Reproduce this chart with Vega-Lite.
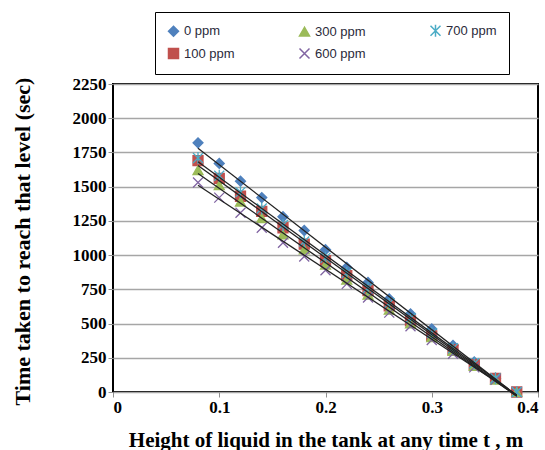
{
  "$schema": "https://vega.github.io/schema/vega-lite/v6.json",
  "width": 425,
  "height": 308,
  "autosize": "none",
  "padding": {"left": 113, "top": 84, "right": 7, "bottom": 58},
  "background": "white",
  "config": {
    "view": {"stroke": "black", "strokeWidth": 2},
    "axis": {"labelFont": "Liberation Serif", "labelFontWeight": "bold", "labelFontSize": 17, "labelColor": "black"},
    "axisX": {"labelFont": "Liberation Serif", "labelFontWeight": "bold", "labelFontSize": 17, "labelColor": "black"},
    "axisBottom": {"labelFont": "Liberation Serif", "labelFontWeight": "bold", "labelFontSize": 17, "labelColor": "black"},
    "legend": {"title": null, "orient": "none", "legendX": 42, "legendY": -72, "columns": 3, "columnPadding": 61, "rowPadding": 5, "padding": 12, "strokeColor": "black", "labelFont": "Liberation Sans", "labelFontSize": 13, "labelColor": "#2a2a3a", "symbolSize": 100, "labelOffset": 4, "gridAlign": "all"}
  },
  "data": {"values": [
    {"h": 0.08, "time": 1820, "series": "0 ppm"}, {"h": 0.10, "time": 1670, "series": "0 ppm"}, {"h": 0.12, "time": 1540, "series": "0 ppm"}, {"h": 0.14, "time": 1420, "series": "0 ppm"}, {"h": 0.16, "time": 1280, "series": "0 ppm"}, {"h": 0.18, "time": 1180, "series": "0 ppm"}, {"h": 0.20, "time": 1040, "series": "0 ppm"}, {"h": 0.22, "time": 910, "series": "0 ppm"}, {"h": 0.24, "time": 800, "series": "0 ppm"}, {"h": 0.26, "time": 680, "series": "0 ppm"}, {"h": 0.28, "time": 570, "series": "0 ppm"}, {"h": 0.30, "time": 460, "series": "0 ppm"}, {"h": 0.32, "time": 340, "series": "0 ppm"}, {"h": 0.34, "time": 220, "series": "0 ppm"}, {"h": 0.36, "time": 100, "series": "0 ppm"}, {"h": 0.38, "time": 0, "series": "0 ppm"},
    {"h": 0.08, "time": 1690, "series": "100 ppm"}, {"h": 0.10, "time": 1560, "series": "100 ppm"}, {"h": 0.12, "time": 1430, "series": "100 ppm"}, {"h": 0.14, "time": 1320, "series": "100 ppm"}, {"h": 0.16, "time": 1200, "series": "100 ppm"}, {"h": 0.18, "time": 1080, "series": "100 ppm"}, {"h": 0.20, "time": 960, "series": "100 ppm"}, {"h": 0.22, "time": 850, "series": "100 ppm"}, {"h": 0.24, "time": 740, "series": "100 ppm"}, {"h": 0.26, "time": 630, "series": "100 ppm"}, {"h": 0.28, "time": 520, "series": "100 ppm"}, {"h": 0.30, "time": 410, "series": "100 ppm"}, {"h": 0.32, "time": 310, "series": "100 ppm"}, {"h": 0.34, "time": 200, "series": "100 ppm"}, {"h": 0.36, "time": 100, "series": "100 ppm"}, {"h": 0.38, "time": 0, "series": "100 ppm"},
    {"h": 0.08, "time": 1620, "series": "300 ppm"}, {"h": 0.10, "time": 1510, "series": "300 ppm"}, {"h": 0.12, "time": 1390, "series": "300 ppm"}, {"h": 0.14, "time": 1270, "series": "300 ppm"}, {"h": 0.16, "time": 1150, "series": "300 ppm"}, {"h": 0.18, "time": 1040, "series": "300 ppm"}, {"h": 0.20, "time": 930, "series": "300 ppm"}, {"h": 0.22, "time": 820, "series": "300 ppm"}, {"h": 0.24, "time": 710, "series": "300 ppm"}, {"h": 0.26, "time": 600, "series": "300 ppm"}, {"h": 0.28, "time": 500, "series": "300 ppm"}, {"h": 0.30, "time": 400, "series": "300 ppm"}, {"h": 0.32, "time": 300, "series": "300 ppm"}, {"h": 0.34, "time": 190, "series": "300 ppm"}, {"h": 0.36, "time": 90, "series": "300 ppm"}, {"h": 0.38, "time": 0, "series": "300 ppm"},
    {"h": 0.08, "time": 1530, "series": "600 ppm"}, {"h": 0.10, "time": 1420, "series": "600 ppm"}, {"h": 0.12, "time": 1310, "series": "600 ppm"}, {"h": 0.14, "time": 1200, "series": "600 ppm"}, {"h": 0.16, "time": 1090, "series": "600 ppm"}, {"h": 0.18, "time": 990, "series": "600 ppm"}, {"h": 0.20, "time": 890, "series": "600 ppm"}, {"h": 0.22, "time": 790, "series": "600 ppm"}, {"h": 0.24, "time": 690, "series": "600 ppm"}, {"h": 0.26, "time": 580, "series": "600 ppm"}, {"h": 0.28, "time": 480, "series": "600 ppm"}, {"h": 0.30, "time": 380, "series": "600 ppm"}, {"h": 0.32, "time": 280, "series": "600 ppm"}, {"h": 0.34, "time": 180, "series": "600 ppm"}, {"h": 0.36, "time": 90, "series": "600 ppm"}, {"h": 0.38, "time": 0, "series": "600 ppm"},
    {"h": 0.08, "time": 1710, "series": "700 ppm"}, {"h": 0.10, "time": 1580, "series": "700 ppm"}, {"h": 0.12, "time": 1460, "series": "700 ppm"}, {"h": 0.14, "time": 1340, "series": "700 ppm"}, {"h": 0.16, "time": 1220, "series": "700 ppm"}, {"h": 0.18, "time": 1100, "series": "700 ppm"}, {"h": 0.20, "time": 980, "series": "700 ppm"}, {"h": 0.22, "time": 870, "series": "700 ppm"}, {"h": 0.24, "time": 760, "series": "700 ppm"}, {"h": 0.26, "time": 650, "series": "700 ppm"}, {"h": 0.28, "time": 540, "series": "700 ppm"}, {"h": 0.30, "time": 430, "series": "700 ppm"}, {"h": 0.32, "time": 320, "series": "700 ppm"}, {"h": 0.34, "time": 210, "series": "700 ppm"}, {"h": 0.36, "time": 100, "series": "700 ppm"}, {"h": 0.38, "time": 0, "series": "700 ppm"}
  ]},
  "encoding": {
    "x": {"field": "h", "type": "quantitative", "scale": {"domain": [0, 0.4], "nice": false},
      "axis": {"values": [0, 0.1, 0.2, 0.3, 0.4], "format": ".1~f", "grid": false, "domain": false, "tickColor": "#909090", "tickSize": 5,
        "labelFont": "Liberation Serif", "labelFontWeight": "bold", "labelFontSize": 17, "labelColor": "black", "labelPadding": 2,
        "title": "Height of liquid in the tank at any time t , m",
        "titleFont": "Liberation Serif", "titleFontWeight": "bold", "titleFontSize": 21, "titleColor": "black", "titlePadding": 14}},
    "y": {"field": "time", "type": "quantitative", "scale": {"domain": [0, 2250], "nice": false},
      "axis": {"values": [0, 250, 500, 750, 1000, 1250, 1500, 1750, 2000, 2250], "format": "d", "grid": true, "gridColor": "#a6a6a6", "gridWidth": 1.5, "domain": false, "tickColor": "#909090", "tickSize": 5,
        "labelFont": "Liberation Serif", "labelFontWeight": "bold", "labelFontSize": 17, "labelColor": "black", "labelPadding": 2,
        "title": "Time taken to reach that level (sec)",
        "titleFont": "Liberation Serif", "titleFontWeight": "bold", "titleFontSize": 22, "titleColor": "black",
        "titleX": -91, "titleY": 157, "titleAlign": "center", "titleBaseline": "middle"}}
  },
  "layer": [
    {
      "mark": {"type": "point", "filled": true, "size": 100, "strokeWidth": 1.3, "opacity": 1},
      "encoding": {
        "fill": {"field": "series", "type": "nominal", "scale": {"domain": ["0 ppm", "100 ppm", "300 ppm", "600 ppm", "700 ppm"], "range": ["#4F81BD", "#C0504D", "#9BBB59", "#8064A2", "#4BACC6"]}},
        "stroke": {"field": "series", "type": "nominal", "scale": {"domain": ["0 ppm", "100 ppm", "300 ppm", "600 ppm", "700 ppm"], "range": ["#4F81BD", "#C0504D", "#9BBB59", "#8064A2", "#4BACC6"]}},
        "shape": {"field": "series", "type": "nominal", "scale": {"domain": ["0 ppm", "100 ppm", "300 ppm", "600 ppm", "700 ppm"], "range": ["diamond", "square", "triangle-up", "M-1,-1L1,1M1,-1L-1,1", "M-1,-1L1,1M1,-1L-1,1M0,-1.2L0,1.2"]}}
      }
    },
    {
      "transform": [{"regression": "time", "on": "h", "groupby": ["series"]}],
      "mark": {"type": "line", "color": "#222222", "strokeWidth": 1.3},
      "encoding": {
        "detail": {"field": "series", "type": "nominal"}
      }
    }
  ]
}
